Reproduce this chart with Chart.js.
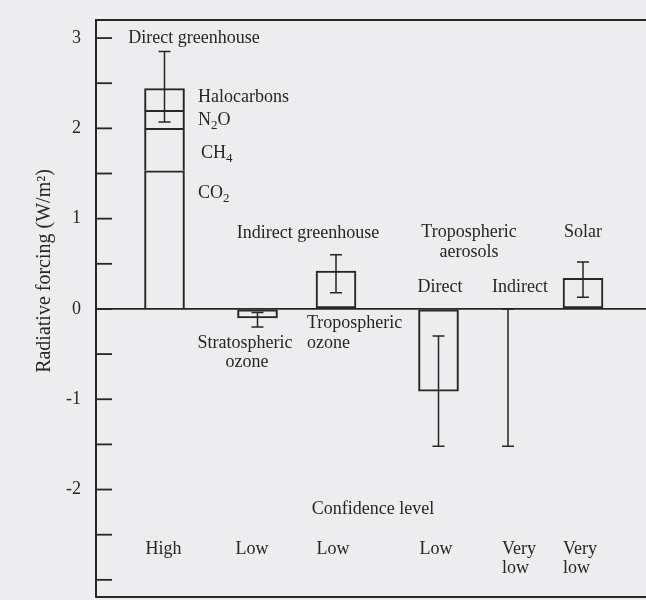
<!DOCTYPE html>
<html>
<head>
<meta charset="utf-8">
<script src="https://cdn.jsdelivr.net/npm/chart.js@4"></script>
<style>
  html, body { margin: 0; padding: 0; background: #edecef; }
  canvas { display: block; }
</style>
</head>
<body>
<canvas id="forcingChart" width="646" height="600"></canvas>
<script>
// groups along the axis
const groups = ["Direct greenhouse", "Stratospheric ozone", "Tropospheric ozone",
                "Aerosols direct", "Aerosols indirect", "Solar"];

// direct greenhouse, stacked by gas (W/m2)
const gases = ["CO_2", "CH_4", "N_2O", "Halocarbons"];
const gasForcing = [1.53, 0.47, 0.2, 0.24];

// other agents (null = no bar, only the range)
const forcing = [null, -0.1, 0.42, -0.91, null, 0.34];

// uncertainty ranges
const rangeLow  = [2.07, -0.2, 0.18, -1.52, -1.52, 0.13];
const rangeHigh = [2.85, -0.04, 0.6, -0.3, 0, 0.52];

const confidence = ["High", "Low", "Low", "Low", "Very low", "Very low"];

const yTicksLabelled = [3, 2, 1, 0, -1, -2];

// where the groups sit on the (hidden) x axis
const groupX = [1.37, 3.23, 4.8, 6.85, 8.24, 9.74];

const ink = "#262626";
const serif = "'Liberation Serif', 'DejaVu Serif', serif";

// text notes placed in data units: [text, x, y, align]
const notes = [
    ["Direct greenhouse", 1.96, 3.0, "center"],
    ["Halocarbons", 2.04, 2.34, "left"],
    [gases[2], 2.04, 2.09, "left"],
    [gases[1], 2.1, 1.72, "left"],
    [gases[0], 2.04, 1.28, "left"],
    ["Indirect greenhouse", 4.24, 0.84, "center"],
    ["Tropospheric", 7.46, 0.85, "center"],
    ["aerosols", 7.46, 0.63, "center"],
    ["Solar", 9.74, 0.85, "center"],
    ["Direct", 6.88, 0.24, "center"],
    ["Indirect", 8.48, 0.24, "center"],
    ["Stratospheric", 2.98, -0.38, "center"],
    ["ozone", 3.02, -0.59, "center"],
    ["Tropospheric", 4.22, -0.16, "left"],
    ["ozone", 4.22, -0.38, "left"],
    ["Confidence level", 5.54, -2.22, "center"]
];

// confidence labels: x anchor per group
const confX = [1.35, 3.12, 4.74, 6.8, 8.12, 9.34];

function drawSubText(ctx, txt, px, py, align){
    const parts = txt.split(/_(\d)/);
    const big = "18px " + serif, small = "13px " + serif;
    let w = 0;
    parts.forEach((p, i) => {
        ctx.font = i % 2 ? small : big;
        w += ctx.measureText(p).width;
    });
    let cx = align === "center" ? px - w / 2 : px;
    ctx.textAlign = "left";
    ctx.textBaseline = "middle";
    parts.forEach((p, i) => {
        ctx.font = i % 2 ? small : big;
        ctx.fillText(p, cx, i % 2 ? py + 5 : py);
        cx += ctx.measureText(p).width;
    });
}

const extras = {
    id: "extras",
    beforeDraw(chart){
        const ctx = chart.ctx;
        ctx.save();
        ctx.fillStyle = "#edecef";
        ctx.fillRect(0, 0, chart.width, chart.height);
        ctx.restore();
    },
    afterDatasetsDraw(chart){
        const {ctx, chartArea: a, scales: {x, y}} = chart;
        ctx.save();
        ctx.strokeStyle = ink;

        // frame top and bottom
        ctx.lineWidth = 2;
        ctx.beginPath();
        ctx.moveTo(a.left, a.top); ctx.lineTo(a.right, a.top);
        ctx.moveTo(a.left, a.bottom); ctx.lineTo(a.right, a.bottom);
        ctx.stroke();

        // inward tick marks
        ctx.lineWidth = 1.8;
        y.ticks.forEach(t => {
            const py = y.getPixelForValue(t.value);
            ctx.beginPath();
            ctx.moveTo(a.left, py); ctx.lineTo(a.left + 16, py);
            ctx.stroke();
        });

        // uncertainty ranges
        ctx.lineWidth = 1.5;
        groups.forEach((g, i) => {
            const px = x.getPixelForValue(groupX[i]);
            const lo = y.getPixelForValue(rangeLow[i]);
            const hi = y.getPixelForValue(rangeHigh[i]);
            ctx.beginPath();
            ctx.moveTo(px, lo); ctx.lineTo(px, hi);
            ctx.moveTo(px - 6, lo); ctx.lineTo(px + 6, lo);
            ctx.moveTo(px - 6, hi); ctx.lineTo(px + 6, hi);
            ctx.stroke();
        });

        // notes
        ctx.fillStyle = ink;
        notes.forEach(n => {
            drawSubText(ctx, n[0], x.getPixelForValue(n[1]), y.getPixelForValue(n[2]), n[3]);
        });

        // confidence levels
        confidence.forEach((c, i) => {
            const px = x.getPixelForValue(confX[i]);
            const words = c.split(" ");
            if(words.length === 1){
                drawSubText(ctx, c, px, y.getPixelForValue(-2.66), "center");
            }else{
                drawSubText(ctx, words[0], px, y.getPixelForValue(-2.66), "left");
                drawSubText(ctx, words[1], px, y.getPixelForValue(-2.87), "left");
            }
        });

        // axis title
        ctx.translate(45, 271);
        ctx.rotate(-Math.PI / 2);
        ctx.font = "20px " + serif;
        ctx.textAlign = "center";
        ctx.textBaseline = "middle";
        ctx.fillText("Radiative forcing (W/m\u00B2)", 0, 0);

        ctx.restore();
    }
};

const barStyle = {
    backgroundColor: "rgba(0,0,0,0)",
    borderColor: ink,
    borderWidth: 1.4,
    borderSkipped: false,
    barThickness: 40
};

// stacked pieces: skip the lower edge so shared edges stay thin
const datasets = gases.map((gName, k) => Object.assign({}, barStyle, {
    label: gName,
    data: [{x: groupX[0], y: gasForcing[k]}],
    borderWidth: {top: 1.4, left: 1.4, right: 1.4, bottom: 0}
}));

datasets.push(Object.assign({
    label: "Other agents",
    data: groups
        .map((g, i) => ({x: groupX[i], y: forcing[i]}))
        .filter(p => p.y !== null)
}, barStyle));

Chart.defaults.font.family = serif;
Chart.defaults.color = ink;

new Chart(
    document.getElementById("forcingChart"),
    {
        type: "bar",
        data: { datasets: datasets },
        options: {
            responsive: false,
            animation: false,
            layout: { padding: { top: 20, bottom: 3, left: 0, right: 0 } },
            plugins: {
                legend: { display: false },
                tooltip: { enabled: false }
            },
            scales: {
                x: {
                    type: "linear",
                    min: 0,
                    max: 11,
                    offset: false,
                    stacked: true,
                    display: false
                },
                y: {
                    stacked: true,
                    min: -3.19,
                    max: 3.2,
                    afterFit(scale){
                        scale.width = 96;
                        scale.paddingTop = 0;
                        scale.paddingBottom = 0;
                    },
                    border: { display: true, color: ink, width: 2 },
                    grid: {
                        drawTicks: false,
                        color: c => c.tick && c.tick.value === 0 ? ink : "rgba(0,0,0,0)",
                        lineWidth: 1.8
                    },
                    ticks: {
                        stepSize: 0.5,
                        includeBounds: false,
                        autoSkip: false,
                        padding: 15,
                        color: ink,
                        font: { size: 18, family: serif },
                        callback: v => yTicksLabelled.includes(v) ? String(v) : ""
                    }
                }
            }
        },
        plugins: [extras]
    }
);
</script>
</body>
</html>
